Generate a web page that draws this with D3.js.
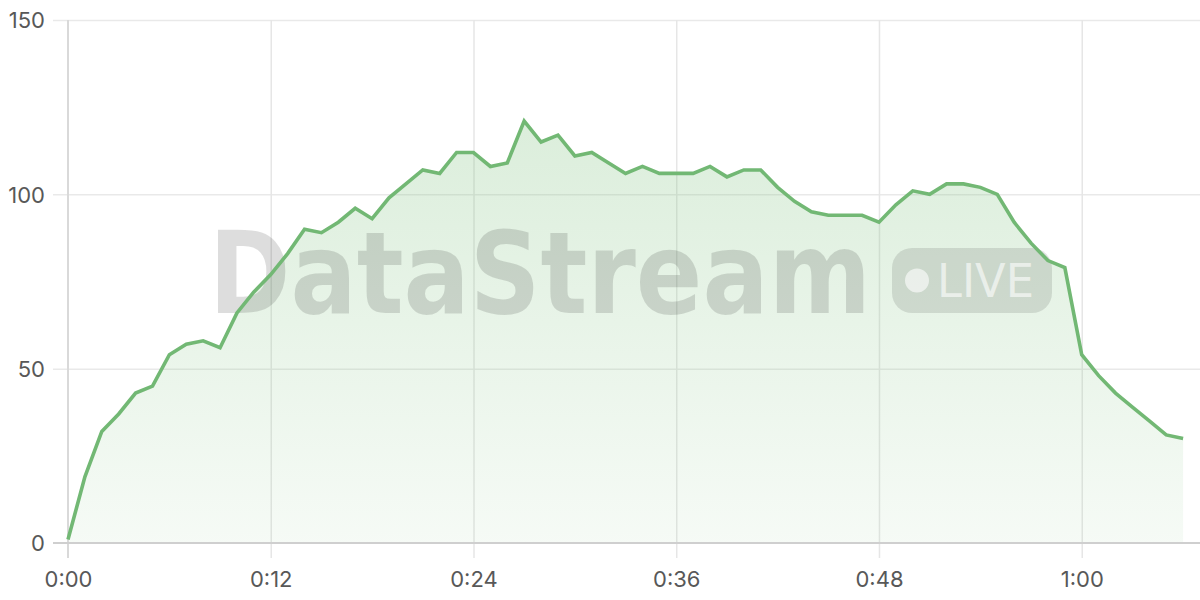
<!DOCTYPE html>
<html>
<head>
<meta charset="utf-8">
<script src="https://cdn.jsdelivr.net/npm/d3@7"></script>
<style>
  html, body { margin: 0; padding: 0; background: #fff; }
  svg { display: block; }
</style>
</head>
<body>
<svg id="chart" width="1200" height="600"></svg>
<script>
// ---- data ----
const minutes = d3.range(0, 67);
const values = [1, 19, 32, 37, 43, 45, 54, 57, 58, 56,
  66, 72, 77, 83, 90, 89, 92, 96, 93, 99,
  103, 107, 106, 112, 112, 108, 109, 121, 115, 117,
  111, 112, 109, 106, 108, 106, 106, 106, 108, 105,
  107, 107, 102, 98, 95, 94, 94, 94, 92, 97,
  101, 100, 103, 103, 102, 100, 92, 86, 81, 79,
  54, 48, 43, 39, 35, 31, 30];
const xTickValues = [0, 12, 24, 36, 48, 60];
const xTickLabels = ["0:00", "0:12", "0:24", "0:36", "0:48", "1:00"];
const yTickValues = [0, 50, 100, 150];
const watermarkText = "DataStream";
const badgeText = "LIVE";

const data = minutes.map((m, i) => ({ m, v: values[i] }));

// ---- layout ----
const svg = d3.select("#chart");
const pLeft = 68, pRight = 1200, pTop = 20, pBottom = 543;
const x = d3.scaleLinear().domain([0, 67]).range([pLeft, pRight]);
const y = d3.scaleLinear().domain([0, 150]).range([pBottom, pTop]);

const defs = svg.append("defs");
const grad = defs.append("linearGradient").attr("id", "areaGrad")
  .attr("gradientUnits", "userSpaceOnUse")
  .attr("x1", 0).attr("x2", 0).attr("y1", y(150)).attr("y2", y(0));
grad.append("stop").attr("offset", "0%").attr("stop-color", "#7cc07c").attr("stop-opacity", 0.32);
grad.append("stop").attr("offset", "100%").attr("stop-color", "#7cc07c").attr("stop-opacity", 0.07);

// gridlines
const gy = svg.append("g").attr("class", "grid-y")
  .attr("transform", `translate(${pLeft},0)`)
  .call(d3.axisLeft(y).tickValues(yTickValues.filter(v => v > 0))
    .tickSize(0).tickFormat(""));
gy.select(".domain").remove();
gy.selectAll("line").attr("stroke", "#e9e9e9").attr("stroke-width", 1.5)
  .attr("x1", -15).attr("x2", pRight - pLeft);

const gx = svg.append("g").attr("class", "grid-x")
  .attr("transform", `translate(0,${pBottom})`)
  .call(d3.axisBottom(x).tickValues(xTickValues.filter(v => v > 0))
    .tickSize(0).tickFormat(""));
gx.select(".domain").remove();
gx.selectAll("line").attr("stroke", "#e6e6e6").attr("stroke-width", 1.5)
  .attr("y1", 15).attr("y2", pTop - pBottom);

// area
const area = d3.area().x(d => x(d.m)).y0(y(0)).y1(d => y(d.v));
svg.append("path").datum(data).attr("d", area).attr("fill", "url(#areaGrad)");

// watermark (horizontally condensed via scale so its box matches what is drawn)
const wm = svg.append("g").attr("class", "watermark");
const wmText = wm.append("text").text(watermarkText)
  .attr("x", 0).attr("y", 0)
  .attr("font-family", "DejaVu Sans, sans-serif")
  .attr("font-weight", "bold").attr("font-size", 114)
  .attr("fill", "#000").attr("fill-opacity", 0.135);
const wmNat = wmText.node().getComputedTextLength() || 768;
wmText.attr("transform", `translate(209,313) scale(${662 / wmNat},1)`);

wm.append("rect").attr("x", 892).attr("y", 248).attr("width", 160).attr("height", 65)
  .attr("rx", 20).attr("fill", "#000").attr("fill-opacity", 0.11);
wm.append("circle").attr("cx", 917).attr("cy", 280.5).attr("r", 12)
  .attr("fill", "#fff").attr("fill-opacity", 0.6);
const lvText = wm.append("text").text(badgeText)
  .attr("x", 0).attr("y", 0)
  .attr("font-family", "DejaVu Sans, sans-serif")
  .attr("font-weight", "normal").attr("font-size", 46)
  .attr("fill", "#fff").attr("fill-opacity", 0.6);
const lvNat = lvText.node().getComputedTextLength() || 110;
lvText.attr("transform", `translate(937,297) scale(${97 / lvNat},1)`);

// axes lines
svg.append("line").attr("x1", pLeft).attr("x2", pLeft).attr("y1", pTop).attr("y2", pBottom + 15)
  .attr("stroke", "#d9d9d9").attr("stroke-width", 2);
svg.append("line").attr("x1", pLeft - 15).attr("x2", pRight).attr("y1", pBottom).attr("y2", pBottom)
  .attr("stroke", "#cfcfcf").attr("stroke-width", 2);

// line
const line = d3.line().x(d => x(d.m)).y(d => y(d.v));
svg.append("path").datum(data).attr("d", line)
  .attr("fill", "none").attr("stroke", "#72b874").attr("stroke-width", 3.6)
  .attr("stroke-linejoin", "miter").attr("stroke-linecap", "butt");

// tick labels
const ya = svg.append("g").attr("transform", `translate(${pLeft - 23},0)`)
  .call(d3.axisLeft(y).tickValues(yTickValues).tickSize(0).tickPadding(0));
ya.select(".domain").remove();
ya.selectAll("text").attr("font-family", "Inter, sans-serif").attr("font-size", 22)
  .attr("fill", "#585858").attr("dy", "0.36em");

const xa = svg.append("g").attr("transform", `translate(0,${pBottom + 36})`)
  .call(d3.axisBottom(x).tickValues(xTickValues).tickSize(0).tickPadding(0)
    .tickFormat((d, i) => xTickLabels[i]));
xa.select(".domain").remove();
xa.selectAll("text").attr("font-family", "Inter, sans-serif").attr("font-size", 22)
  .attr("fill", "#585858").attr("dy", "0.36em");
</script>
</body>
</html>
